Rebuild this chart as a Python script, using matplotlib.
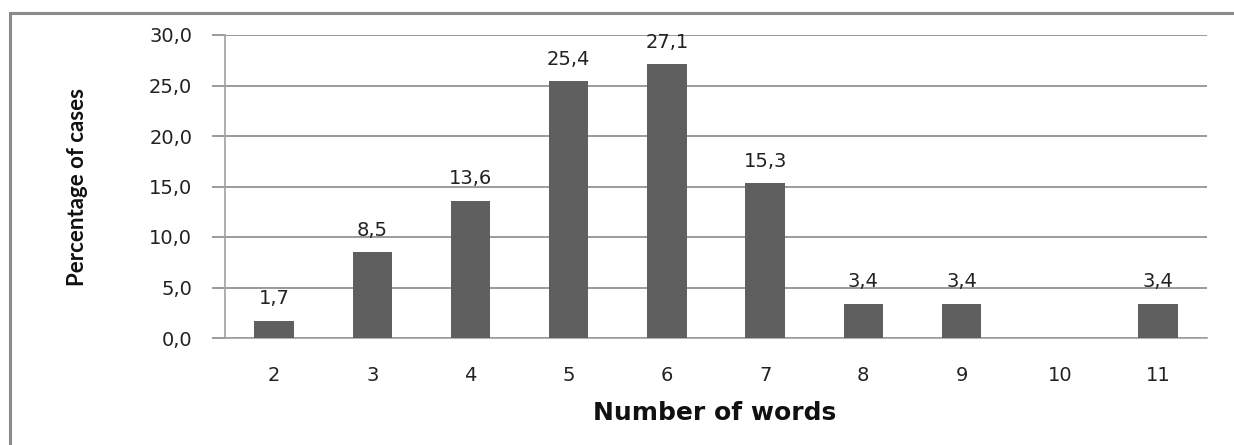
import numpy as np
import matplotlib
matplotlib.use("Agg")
import matplotlib.pyplot as plt
from matplotlib.patches import Rectangle

# word counts and share of cases (%)
words = [2, 3, 4, 5, 6, 7, 8, 9, 10, 11]
percent = [1.7, 8.5, 13.6, 25.4, 27.1, 15.3, 3.4, 3.4, 0.0, 3.4]
yticks = [0, 5, 10, 15, 20, 25, 30]

bar_col = '#5f5f5f'
grid_col = '#8a8a8a'

fig = plt.figure(figsize=(12.34, 4.45), dpi=100)
ax = fig.add_axes([225/1234, (445-338)/445, (1207-225)/1234, (338-35)/445])

x = np.arange(len(words))
ax.bar(x, percent, width=0.4, color=bar_col, zorder=3)

for xi, v in zip(x, percent):
    if v > 0:
        ax.annotate(f"{v:.1f}".replace('.', ','), (xi, v), xytext=(0, 9),
                    textcoords='offset points', ha='center', va='bottom',
                    fontsize=14, color='#222222')

ax.set_xlim(-0.5, len(words) - 0.5)
ax.set_ylim(0, 30)
ax.set_yticks(yticks)
ax.set_yticklabels([f"{t:.1f}".replace('.', ',') for t in yticks])
ax.set_xticks(x)
ax.set_xticklabels([str(w) for w in words])

ax.grid(axis='y', color=grid_col, lw=1.2, zorder=0)
ax.tick_params(axis='y', length=9.5, width=1.2, color=grid_col, pad=14,
               labelsize=14, labelcolor='#222222')
ax.tick_params(axis='x', length=0, pad=20, labelsize=14, labelcolor='#222222')

for side in ['top', 'right']:
    ax.spines[side].set_visible(False)
ax.spines['left'].set_color('#a0a0a0')
ax.spines['bottom'].set_color('#a0a0a0')
ax.spines['left'].set_linewidth(1.2)
ax.spines['bottom'].set_linewidth(1.2)

fig.text(715/1234, 1 - 413/445, 'Number of words', ha='center', va='center',
         fontsize=18, fontweight='bold', color='#111111')
fig.text(77/1234, 1 - 187/445, 'Percentage of cases', rotation=90,
         ha='center', va='center', fontsize=16, fontweight='bold',
         family=['Lato', 'DejaVu Sans'], color='#111111')

# outer frame, cut off at right and bottom
fig.add_artist(Rectangle((9.5/1234, -0.2), 1.5, 1.2 - 12.5/445,
                         transform=fig.transFigure, fill=False,
                         edgecolor='#8a8a8a', lw=2.2))

fig.savefig('out.png', dpi=100)
